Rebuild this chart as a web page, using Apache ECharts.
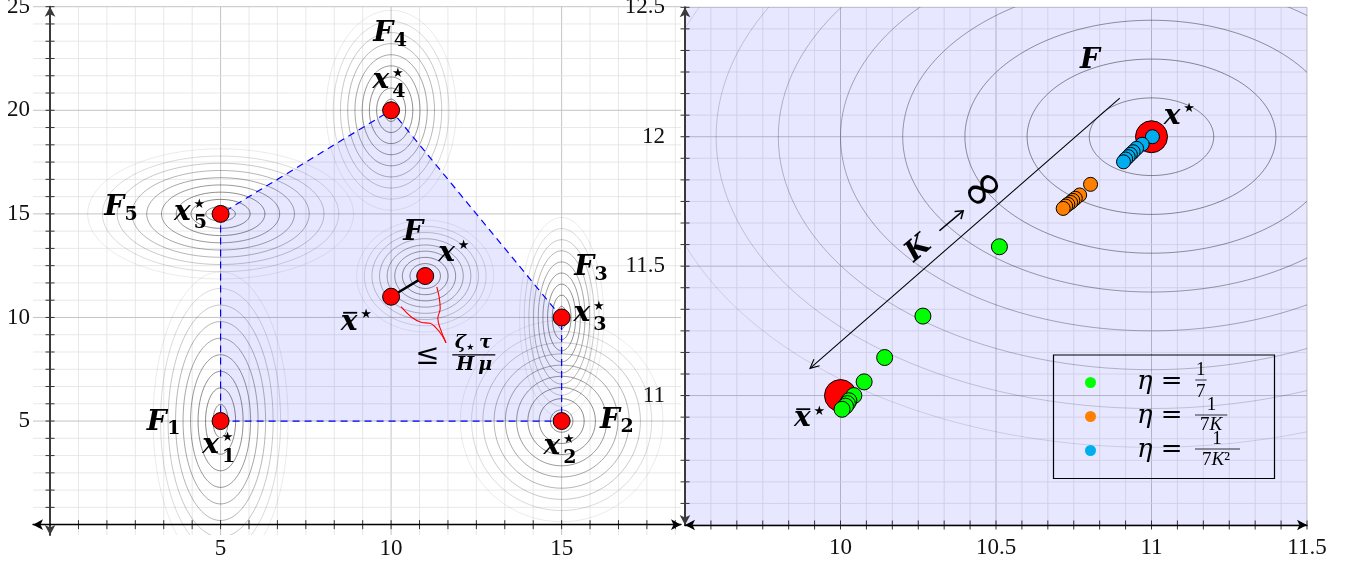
<!DOCTYPE html>
<html><head><meta charset="utf-8">
<script src="https://cdn.jsdelivr.net/npm/echarts@6/dist/echarts.min.js"></script>
<style>html,body{margin:0;padding:0;background:#fff}#c{width:1349px;height:564px}</style>
</head><body><div id="c"></div>
<script>
// ---------------- data ----------------
const leftXRange = [-0.5, 18.5];
const leftYRange = [-0.5, 25];
const rightXRange = [9.5, 11.5];
const rightYRange = [10.5, 12.5];
const leftXTickLabels = [5, 10, 15];
const leftYTickLabels = [5, 10, 15, 20, 25];
const rightXTickLabels = [10, 10.5, 11, 11.5];
const rightYTickLabels = [11, 11.5, 12, 12.5];
const leftGridStep = 5 / 6, leftGridMajor = 5;
const rightGridStep = 1 / 12, rightGridMajor = 0.5;

const localMinimizers = [[5, 5], [15, 5], [15, 10], [10, 20], [5, 15]];
const hullVertices = [[5, 5], [15, 5], [15, 10], [10, 20], [5, 15]];
const globalMinimizer = [11, 12];
const averageMinimizer = [10, 11];

// contour families: centre and semi-axes of the first level (data units)
const leftContourCenters = [[5, 5], [15, 5], [15, 10], [10, 20], [5, 15], [11, 12]];
const leftContourSemiAxes = [[0.22, 0.8], [0.33, 0.54], [0.137, 0.536], [0.212, 0.536], [0.433, 0.349], [0.223, 0.3]];
const leftContourLevels = [1, 2, 3, 4, 5, 6, 7, 8, 9];
const leftContourAlpha = [0.62, 0.6, 0.56, 0.5, 0.44, 0.36, 0.27, 0.18, 0.1];
const rightContourCenter = [11, 12];
const rightContourSemiAxes = [0.2, 0.15];
const rightContourLevels = [1, 2, 3, 4, 5, 6, 7, 8];
const rightContourAlpha = [0.55, 0.55, 0.5, 0.45, 0.38, 0.3, 0.22, 0.15];

const braceLeftBranch = [[10.29, 10.52], [10.61, 10.0], [10.9, 9.76], [11.14, 9.72], [11.29, 9.55], [11.49, 9.15], [11.61, 8.78]];
const braceRightBranch = [[11.61, 8.78], [11.44, 9.47], [11.37, 9.96], [11.44, 10.44], [11.41, 10.97], [11.34, 11.48]];

const greenIterates = [[10.511, 11.575], [10.265, 11.307], [10.142, 11.147], [10.076, 11.053], [10.043, 11.0], [10.027, 10.98], [10.022, 10.969], [10.016, 10.959], [10.005, 10.947]];
const orangeIterates = [[10.804, 11.816], [10.769, 11.775], [10.755, 11.762], [10.747, 11.754], [10.74, 11.746], [10.731, 11.739], [10.724, 11.732], [10.716, 11.723]];
const blueIterates = [[11.003, 12.0], [10.97, 11.971], [10.952, 11.955], [10.941, 11.942], [10.932, 11.932], [10.925, 11.923], [10.917, 11.914], [10.91, 11.903]];
const kArrow = [10.898, 12.149, 9.902, 11.105];

const seriesNames = ['η = 1/7', 'η = 1/(7K)', 'η = 1/(7K²)'];
const seriesColors = ['#00ff00', '#ff8000', '#00aeef'];

// ---------------- annotations ----------------
const annoLeft = [
  {glyph: 'F', sub: '1', pos: [3.13, 4.48]},
  {glyph: 'x', star: true, sub: '1', pos: [4.71, 3.36]},
  {glyph: 'F', sub: '2', pos: [16.42, 4.57]},
  {glyph: 'x', star: true, sub: '2', pos: [14.71, 3.28]},
  {glyph: 'F', sub: '3', pos: [15.66, 11.94]},
  {glyph: 'x', star: true, sub: '3', pos: [15.59, 9.72]},
  {glyph: 'F', sub: '4', pos: [9.77, 23.23]},
  {glyph: 'x', star: true, sub: '4', pos: [9.7, 20.97]},
  {glyph: 'F', sub: '5', pos: [1.88, 14.83]},
  {glyph: 'x', star: true, sub: '5', pos: [3.88, 14.62]},
  {glyph: 'F', pos: [10.65, 13.65]},
  {glyph: 'x', star: true, pos: [11.63, 12.64]},
  {glyph: 'x', star: true, bar: true, pos: [8.77, 9.31]}
];
const annoRight = [
  {glyph: 'F', pos: [10.802, 12.255]},
  {glyph: 'x', star: true, pos: [11.066, 12.041]},
  {glyph: 'x', star: true, bar: true, pos: [9.877, 10.874]}
];
const boundAnchor = [12.41, 8.19];
const kLabelAnchor = [10.355, 11.674];

// ---------------- helpers ----------------
const SERIF = '"Liberation Serif", "DejaVu Serif", serif';
const MATH = '"DejaVu Serif", serif';
const MAIN_FONT = 'bold italic 28px ' + MATH;
const SUB_FONT = 'bold 19px ' + MATH;
const STAR_FONT = '13px "DejaVu Sans"';

function T(x, yBase, str, font, size, extra) {
  return Object.assign({
    type: 'text', x: x, y: yBase - 0.34 * size, silent: true,
    style: {text: str, font: font, fill: '#000', align: 'center', verticalAlign: 'middle', textAlign: 'center', textVerticalAlign: 'middle'}
  }, extra || {});
}

function gridSegments(xr, yr, step, major) {
  const segs = [];
  const isMajor = v => Math.abs(v / major - Math.round(v / major)) < 1e-6;
  for (let k = Math.ceil(xr[0] / step - 1e-9); k * step <= xr[1] + 1e-9; k++) {
    const v = k * step; segs.push([v, yr[0], v, yr[1], isMajor(v) ? 1 : 0]);
  }
  for (let k = Math.ceil(yr[0] / step - 1e-9); k * step <= yr[1] + 1e-9; k++) {
    const v = k * step; segs.push([xr[0], v, xr[1], v, isMajor(v) ? 1 : 0]);
  }
  return segs;
}
function tickMarks(xFrom, xTo, yAt, yFrom, yTo, xAt, step) {
  const t = [];
  for (let k = 1; xFrom + k * step <= xTo + 1e-9; k++) t.push([xFrom + k * step, yAt, 0]);
  for (let k = 1; yFrom + k * step <= yTo + 1e-9; k++) t.push([xAt, yFrom + k * step, 1]);
  return t;
}
function clipOf(params) {
  const cs = params.coordSys;
  return {type: 'rect', shape: {x: cs.x, y: cs.y, width: cs.width, height: cs.height}};
}
function segRender(minorColor, majorColor) {
  return function (params, api) {
    const p1 = api.coord([api.value(0), api.value(1)]);
    const p2 = api.coord([api.value(2), api.value(3)]);
    const maj = api.value(4) === 1;
    return {type: 'line', silent: true, shape: {x1: p1[0], y1: p1[1], x2: p2[0], y2: p2[1]},
      style: {stroke: maj ? majorColor : minorColor, lineWidth: maj ? 1 : 0.8}};
  };
}
function tickRender(params, api) {
  const p = api.coord([api.value(0), api.value(1)]);
  const vert = api.value(2) === 0;
  const L = 4.5;
  return {type: 'line', silent: true,
    shape: vert ? {x1: p[0], y1: p[1] - L, x2: p[0], y2: p[1] + L} : {x1: p[0] - L, y1: p[1], x2: p[0] + L, y2: p[1]},
    style: {stroke: '#333', lineWidth: 1}};
}
function ellipseRender(params, api) {
  const cx = api.value(0), cy = api.value(1), a = api.value(2), b = api.value(3), al = api.value(4);
  const pts = [];
  for (let i = 0; i <= 160; i++) {
    const t = i / 160 * 2 * Math.PI;
    pts.push(api.coord([cx + a * Math.cos(t), cy + b * Math.sin(t)]));
  }
  return {type: 'polyline', silent: true, shape: {points: pts},
    style: {stroke: 'rgba(30,30,30,' + al + ')', lineWidth: 0.9, fill: null}, clipPath: clipOf(params)};
}
function annoRender(list) {
  return function (params, api) {
    const a = list[params.dataIndex];
    const p = api.coord([api.value(0), api.value(1)]);
    const ch = [T(p[0], p[1], a.glyph, MAIN_FONT, 28)];
    if (a.glyph === 'F' && a.sub) ch.push(T(p[0] + 17, p[1] + 4, a.sub, SUB_FONT, 19));
    if (a.star) ch.push({type: 'text', x: p[0] + 17, y: p[1] - 17, silent: true,
      style: {text: '★', font: STAR_FONT, fill: '#000', align: 'center', verticalAlign: 'middle', textAlign: 'center', textVerticalAlign: 'middle'}});
    if (a.glyph === 'x' && a.sub) ch.push(T(p[0] + 18, p[1] + 8, a.sub, SUB_FONT, 19));
    if (a.bar) ch.push({type: 'line', silent: true, shape: {x1: p[0] - 6, y1: p[1] - 19, x2: p[0] + 8, y2: p[1] - 19}, style: {stroke: '#000', lineWidth: 1.8}});
    return {type: 'group', children: ch};
  };
}
function boundRender(params, api) {
  const p = api.coord([api.value(0), api.value(1)]);
  const f = 'bold italic 19px ' + MATH;
  return {type: 'group', children: [
    T(p[0] - 46, p[1] + 11.7, '≤', '29px ' + MATH, 29),
    T(p[0] - 13, p[1] - 5, 'ζ', f, 19),
    {type: 'text', x: p[0] - 3, y: p[1] - 7, silent: true, style: {text: '★', font: '9px "DejaVu Sans"', fill: '#000', align: 'center', verticalAlign: 'middle', textAlign: 'center', textVerticalAlign: 'middle'}},
    T(p[0] + 12, p[1] - 5, 'τ', f, 19),
    {type: 'line', silent: true, shape: {x1: p[0] - 21, y1: p[1], x2: p[0] + 22, y2: p[1]}, style: {stroke: '#000', lineWidth: 1.2}},
    T(p[0] - 8, p[1] + 17, 'H', f, 19),
    T(p[0] + 12, p[1] + 17, 'μ', f, 19)
  ]};
}
function kLabelRender(params, api) {
  const p = api.coord([api.value(0), api.value(1)]);
  return {type: 'group', x: p[0], y: p[1], rotation: 40 * Math.PI / 180, children: [
    T(-43, 10, 'K', MAIN_FONT, 28),
    {type: 'line', silent: true, shape: {x1: -15, y1: 0, x2: 15, y2: 0}, style: {stroke: '#000', lineWidth: 1.6}},
    {type: 'polyline', silent: true, shape: {points: [[9, -5], [16, 0], [9, 5]]}, style: {stroke: '#000', lineWidth: 1.6, fill: null}},
    T(45, 16, '∞', '52px "DejaVu Sans"', 52)
  ]};
}
function arrowRender(params, api) {
  const p1 = api.coord([api.value(0), api.value(1)]);
  const p2 = api.coord([api.value(2), api.value(3)]);
  const ang = Math.atan2(p1[1] - p2[1], p1[0] - p2[0]);
  const L = 10, s = 0.45;
  const h1 = [p2[0] + L * Math.cos(ang + s), p2[1] + L * Math.sin(ang + s)];
  const h2 = [p2[0] + L * Math.cos(ang - s), p2[1] + L * Math.sin(ang - s)];
  return {type: 'group', children: [
    {type: 'line', silent: true, shape: {x1: p1[0], y1: p1[1], x2: p2[0], y2: p2[1]}, style: {stroke: '#000', lineWidth: 1.1}},
    {type: 'polyline', silent: true, shape: {points: [h1, p2, h2]}, style: {stroke: '#000', lineWidth: 1.1, fill: null}}
  ]};
}
function fillRender(poly) {
  return function (params, api) {
    return {type: 'polygon', silent: true, shape: {points: poly.map(v => api.coord(v))}, style: {fill: 'rgba(0,0,255,0.095)', stroke: null}};
  };
}

const leftContours = [];
leftContourCenters.forEach((c, i) => leftContourLevels.forEach((k, j) =>
  leftContours.push([c[0], c[1], k * leftContourSemiAxes[i][0], k * leftContourSemiAxes[i][1], leftContourAlpha[j]])));
const rightContours = rightContourLevels.map((k, j) =>
  [rightContourCenter[0], rightContourCenter[1], k * rightContourSemiAxes[0], k * rightContourSemiAxes[1], rightContourAlpha[j]]);
const rightRect = [[rightXRange[0], rightYRange[0]], [rightXRange[1], rightYRange[0]], [rightXRange[1], rightYRange[1]], [rightXRange[0], rightYRange[1]]];

function axisLbl(vals, margin) {
  return {customValues: vals, color: '#111', fontFamily: 'Liberation Serif', fontSize: 23, fontWeight: 'normal', margin: margin,
    formatter: v => '{t|' + v + '}', rich: {t: {fontFamily: 'Liberation Serif', fontSize: 23, color: '#111'}}};
}
const TXT = {fill: '#000', align: 'center', verticalAlign: 'middle', textAlign: 'center', textVerticalAlign: 'middle'};
const LF = '19px ' + SERIF;

const option = {
  animation: false,
  backgroundColor: '#ffffff',
  textStyle: {fontFamily: 'Liberation Serif', fontSize: 23},
  grid: [
    {left: 33, top: 6.7, width: 648, height: 528.3, containLabel: false, outerBoundsMode: 'none'},
    {left: 685, top: 7.3, width: 622, height: 517.7, containLabel: false, outerBoundsMode: 'none'}
  ],
  xAxis: [
    {gridIndex: 0, type: 'value', min: leftXRange[0], max: leftXRange[1], z: 10,
      axisLine: {onZero: true, symbol: ['arrow', 'arrow'], symbolSize: [8, 10], lineStyle: {color: '#000', width: 1.4}},
      axisTick: {show: false}, splitLine: {show: false}, axisLabel: axisLbl(leftXTickLabels, 2)},
    {gridIndex: 1, type: 'value', min: rightXRange[0], max: rightXRange[1], z: 10,
      axisLine: {onZero: false, symbol: ['arrow', 'arrow'], symbolSize: [8, 10], lineStyle: {color: '#000', width: 1.4}},
      axisTick: {show: false}, splitLine: {show: false}, axisLabel: axisLbl(rightXTickLabels, 11)}
  ],
  yAxis: [
    {gridIndex: 0, type: 'value', min: leftYRange[0], max: leftYRange[1], z: 10,
      axisLine: {onZero: true, symbol: ['arrow', 'arrow'], symbolSize: [8, 10], lineStyle: {color: '#3a3a3a', width: 2}},
      axisTick: {show: false}, splitLine: {show: false}, axisLabel: axisLbl(leftYTickLabels, 3)},
    {gridIndex: 1, type: 'value', min: rightYRange[0], max: rightYRange[1], z: 10,
      axisLine: {onZero: false, symbol: ['arrow', 'arrow'], symbolSize: [8, 10], lineStyle: {color: '#3a3a3a', width: 2}},
      axisTick: {show: false}, splitLine: {show: false}, axisLabel: axisLbl(rightYTickLabels, 20)}
  ],
  legend: {
    show: true, orient: 'vertical', left: 1085, top: 377, padding: 0,
    itemWidth: 11, itemHeight: 11, itemGap: 23, icon: 'circle', selectedMode: false,
    formatter: () => '', textStyle: {fontSize: 8, lineHeight: 11},
    itemStyle: {borderWidth: 0}, data: seriesNames
  },
  graphic: [
    {type: 'rect', z: 100, silent: true, shape: {x: 1053.5, y: 355, width: 221, height: 123.5}, style: {fill: null, stroke: '#000', lineWidth: 1.2}},
    ...[382.7, 416.7, 450.7].flatMap(cy => [
      {type: 'text', z: 100, silent: true, x: 1144.7, y: cy + 8.3 - 0.34 * 26, style: Object.assign({text: 'η', font: 'italic 26px ' + MATH}, TXT)},
      {type: 'text', z: 100, silent: true, x: 1171.7, y: cy + 8.3 - 0.34 * 26, style: Object.assign({text: '=', font: '26px ' + MATH}, TXT)}
    ]),
    {type: 'text', z: 100, silent: true, x: 1200.7, y: 376.7 - 6.5, style: Object.assign({text: '1', font: LF}, TXT)},
    {type: 'line', z: 100, silent: true, shape: {x1: 1195.3, y1: 380, x2: 1206.7, y2: 380}, style: {stroke: '#000', lineWidth: 0.8}},
    {type: 'text', z: 100, silent: true, x: 1200.7, y: 399 - 6.5, style: Object.assign({text: '7', font: LF}, TXT)},
    {type: 'text', z: 100, silent: true, x: 1211.5, y: 411.7 - 6.5, style: Object.assign({text: '1', font: LF}, TXT)},
    {type: 'line', z: 100, silent: true, shape: {x1: 1195, y1: 415, x2: 1227.3, y2: 415}, style: {stroke: '#000', lineWidth: 0.8}},
    {type: 'text', z: 100, silent: true, x: 1211, y: 431.7 - 6.5, style: Object.assign({text: '{n|7}{k|K}', rich: {n: {fontSize: 19, fontFamily: 'Liberation Serif'}, k: {fontSize: 19, fontFamily: 'Liberation Serif', fontStyle: 'italic'}}}, TXT)},
    {type: 'text', z: 100, silent: true, x: 1217, y: 446 - 6.5, style: Object.assign({text: '1', font: LF}, TXT)},
    {type: 'line', z: 100, silent: true, shape: {x1: 1195, y1: 449, x2: 1240, y2: 449}, style: {stroke: '#000', lineWidth: 0.8}},
    {type: 'text', z: 100, silent: true, x: 1216, y: 466.7 - 6.5, style: Object.assign({text: '{n|7}{k|K}{n|²}', rich: {n: {fontSize: 19, fontFamily: 'Liberation Serif'}, k: {fontSize: 19, fontFamily: 'Liberation Serif', fontStyle: 'italic'}}}, TXT)}
  ],
  series: [
    // ----- left panel -----
    {type: 'custom', xAxisIndex: 0, yAxisIndex: 0, z: 1, silent: true, renderItem: segRender('#e2e2e2', '#c4c4c4'), data: gridSegments(leftXRange, leftYRange, leftGridStep, leftGridMajor)},
    {type: 'custom', xAxisIndex: 0, yAxisIndex: 0, z: 2, silent: true, renderItem: fillRender(hullVertices), data: [[hullVertices[0][0], hullVertices[0][1]]]},
    {type: 'custom', xAxisIndex: 0, yAxisIndex: 0, z: 3, silent: true, renderItem: ellipseRender, data: leftContours},
    {type: 'line', xAxisIndex: 0, yAxisIndex: 0, z: 4, silent: true, symbol: 'none', data: hullVertices.concat([hullVertices[0]]), lineStyle: {color: '#0000ff', width: 1.2, type: [7, 5]}},
    {type: 'line', xAxisIndex: 0, yAxisIndex: 0, z: 4, silent: true, symbol: 'none', smooth: 0.4, data: braceLeftBranch, lineStyle: {color: '#ff0000', width: 1.1}},
    {type: 'line', xAxisIndex: 0, yAxisIndex: 0, z: 4, silent: true, symbol: 'none', smooth: 0.4, data: braceRightBranch, lineStyle: {color: '#ff0000', width: 1.1}},
    {type: 'line', xAxisIndex: 0, yAxisIndex: 0, z: 5, silent: true, symbol: 'none', data: [averageMinimizer, globalMinimizer], lineStyle: {color: '#000', width: 2.6}},
    {type: 'scatter', xAxisIndex: 0, yAxisIndex: 0, z: 6, silent: true, symbolSize: 17, data: localMinimizers.concat([globalMinimizer, averageMinimizer]), itemStyle: {color: '#ff0000', borderColor: '#000', borderWidth: 1, opacity: 1}},
    {type: 'custom', xAxisIndex: 0, yAxisIndex: 0, z: 7, silent: true, renderItem: annoRender(annoLeft), data: annoLeft.map(a => a.pos)},
    {type: 'custom', xAxisIndex: 0, yAxisIndex: 0, z: 7, silent: true, renderItem: boundRender, data: [boundAnchor]},
    {type: 'custom', xAxisIndex: 0, yAxisIndex: 0, z: 9, silent: true, renderItem: tickRender, data: tickMarks(0, leftXRange[1], 0, 0, leftYRange[1], 0, leftGridStep)},
    // ----- right panel -----
    {type: 'custom', xAxisIndex: 1, yAxisIndex: 1, z: 1, silent: true, renderItem: segRender('#e2e2e2', '#c4c4c4'), data: gridSegments(rightXRange, rightYRange, rightGridStep, rightGridMajor)},
    {type: 'custom', xAxisIndex: 1, yAxisIndex: 1, z: 2, silent: true, renderItem: fillRender(rightRect), data: [rightRect[0]]},
    {type: 'custom', xAxisIndex: 1, yAxisIndex: 1, z: 3, silent: true, renderItem: ellipseRender, data: rightContours},
    {type: 'custom', xAxisIndex: 1, yAxisIndex: 1, z: 4, silent: true, renderItem: arrowRender, data: [kArrow]},
    {type: 'scatter', xAxisIndex: 1, yAxisIndex: 1, z: 5, silent: true, symbolSize: 32, data: [globalMinimizer, averageMinimizer], itemStyle: {color: '#ff0000', borderColor: '#000', borderWidth: 1, opacity: 1}},
    {type: 'scatter', name: seriesNames[0], xAxisIndex: 1, yAxisIndex: 1, z: 6, silent: true, symbolSize: 16, data: greenIterates, itemStyle: {color: seriesColors[0], borderColor: '#000', borderWidth: 1, opacity: 1}},
    {type: 'scatter', name: seriesNames[1], xAxisIndex: 1, yAxisIndex: 1, z: 6, silent: true, symbolSize: 14, data: orangeIterates, itemStyle: {color: seriesColors[1], borderColor: '#000', borderWidth: 1, opacity: 1}},
    {type: 'scatter', name: seriesNames[2], xAxisIndex: 1, yAxisIndex: 1, z: 6, silent: true, symbolSize: 14, data: blueIterates, itemStyle: {color: seriesColors[2], borderColor: '#000', borderWidth: 1, opacity: 1}},
    {type: 'custom', xAxisIndex: 1, yAxisIndex: 1, z: 7, silent: true, renderItem: annoRender(annoRight), data: annoRight.map(a => a.pos)},
    {type: 'custom', xAxisIndex: 1, yAxisIndex: 1, z: 7, silent: true, renderItem: kLabelRender, data: [kLabelAnchor]},
    {type: 'custom', xAxisIndex: 1, yAxisIndex: 1, z: 9, silent: true, renderItem: tickRender, data: tickMarks(rightXRange[0], rightXRange[1], rightYRange[0], rightYRange[0], rightYRange[1], rightXRange[0], rightGridStep)}
  ]
};
const chart = echarts.init(document.getElementById('c'), null, {renderer: 'canvas'});
chart.setOption(option);
</script></body></html>
